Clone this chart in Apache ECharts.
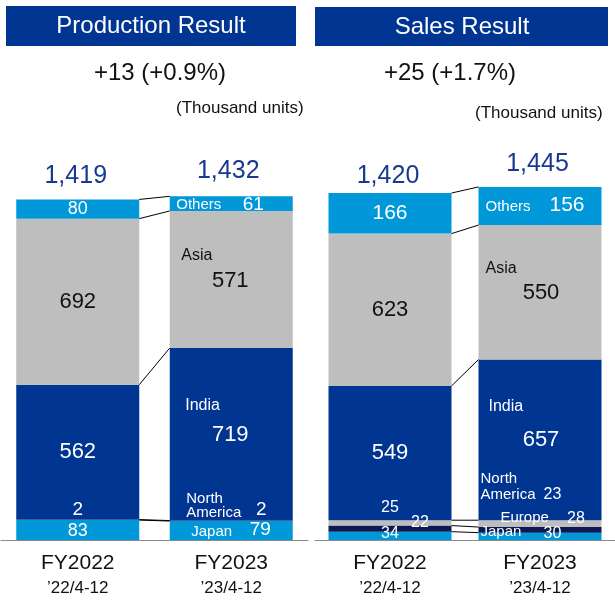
<!DOCTYPE html>
<html>
<head>
<meta charset="utf-8">
<script src="https://cdn.jsdelivr.net/npm/echarts@6/dist/echarts.min.js"></script>
<style>
html,body{margin:0;padding:0;background:#fff;}
#chart{width:615px;height:601px;}
</style>
</head>
<body>
<div id="chart"></div>
<script>
// ---------- DATA ----------
const categories = ['FY2022', 'FY2023'];
const periods = ['’22/4-12', '’23/4-12'];

const prodJapan  = [83, 79];
const prodNA     = [2, 2];
const prodIndia  = [562, 719];
const prodAsia   = [692, 571];
const prodOthers = [80, 61];
const prodTotal  = [1419, 1432];

const salesJapan  = [34, 30];
const salesNA     = [25, 23];
const salesEurope = [22, 28];
const salesIndia  = [549, 657];
const salesAsia   = [623, 550];
const salesOthers = [166, 156];
const salesTotal  = [1420, 1445];

const prodTitle = 'Production Result';
const salesTitle = 'Sales Result';
const prodChange = '+13 (+0.9%)';
const salesChange = '+25 (+1.7%)';
const unitText = '(Thousand units)';

// ---------- STYLE ----------
const FONT = 'Liberation Sans, Arial, sans-serif';
const C_BLUE = '#003591';
const C_LIGHT = '#0098d9';
const C_GRAY = '#bebebe';
const C_NAVY = '#0b1a52';
const C_TOTAL = '#17398f';
const BAR_W = 123;

const chart = echarts.init(document.getElementById('chart'), null, {renderer: 'canvas'});

function valueSeries(name, values, color, grid, stack, labelCfg) {
  return {
    name: name, type: 'bar', stack: stack, barWidth: BAR_W, barGap: '-100%',
    xAxisIndex: grid, yAxisIndex: grid,
    itemStyle: {color: color},
    emphasis: {disabled: true},
    label: {show: true, position: 'inside', color: '#fff', fontFamily: FONT},
    data: values.map((v, i) => ({
      value: v,
      label: Object.assign({formatter: String(v)}, labelCfg[i])
    }))
  };
}

function nameSeries(name, values, grid, stack, labelCfg) {
  return {
    name: name + '-n', type: 'bar', stack: stack, barWidth: BAR_W, barGap: '-100%',
    xAxisIndex: grid, yAxisIndex: grid, silent: true,
    itemStyle: {color: 'rgba(0,0,0,0)'},
    emphasis: {disabled: true},
    label: {show: false, position: 'inside', color: '#fff', fontFamily: FONT, align: 'left'},
    data: values.map((v, i) => ({
      value: v,
      label: labelCfg[i] ? Object.assign({show: true, formatter: name}, labelCfg[i]) : {show: false}
    }))
  };
}

function connectors(seriesArrays, grid) {
  // cumulative boundaries for each category
  const bounds = [];
  let c0 = 0, c1 = 0;
  seriesArrays.forEach(arr => {
    c0 += arr[0]; c1 += arr[1];
    bounds.push([0, c0, c1]);
  });
  return {
    type: 'custom', xAxisIndex: grid, yAxisIndex: grid, silent: true,
    encode: {x: 0, y: 1},
    data: bounds,
    renderItem: function (params, api) {
      const p0 = api.coord([0, api.value(1)]);
      const p1 = api.coord([1, api.value(2)]);
      return {
        type: 'line',
        shape: {x1: p0[0] + BAR_W / 2, y1: p0[1], x2: p1[0] - BAR_W / 2, y2: p1[1]},
        style: {stroke: '#000', lineWidth: 1}
      };
    },
    z: 5
  };
}

function fmtThousands(v) {
  return String(v).replace(/\B(?=(\d{3})+(?!\d))/g, ',');
}

function totalSeries(totals, grid, offsets) {
  return {
    type: 'scatter', xAxisIndex: grid, yAxisIndex: grid, symbolSize: 0, silent: true,
    itemStyle: {opacity: 1, color: C_TOTAL},
    emphasis: {disabled: true},
    data: totals.map((v, i) => ({
      value: [i, v],
      label: {show: true, position: 'inside', offset: offsets[i], formatter: fmtThousands(v),
              color: C_TOTAL, opacity: 1, fontSize: 25, fontFamily: FONT}
    }))
  };
}

const xAxisCommon = {
  type: 'category', data: categories,
  axisTick: {show: false},
  axisLine: {lineStyle: {color: '#8c8c8c', width: 1}},
  axisLabel: {
    margin: 10,
    formatter: (v, i) => '{a|' + v + '}\n{b|' + periods[i] + '}',
    rich: {
      a: {fontSize: 21, lineHeight: 26, color: '#111', fontFamily: FONT},
      b: {fontSize: 17, lineHeight: 24, color: '#111', fontFamily: FONT}
    }
  }
};

const series = [
  // Production values
  valueSeries('Japan', prodJapan, C_LIGHT, 0, 'p', [{fontSize: 18, offset: [0, 1]}, {fontSize: 19, offset: [29, -0.5]}]),
  valueSeries('North America', prodNA, C_NAVY, 0, 'p', [{fontSize: 19, offset: [0, -10]}, {fontSize: 19, offset: [30, -11]}]),
  valueSeries('India', prodIndia, C_BLUE, 0, 'p', [{fontSize: 22, offset: [0, 0]}, {fontSize: 22, offset: [-1, 1]}]),
  valueSeries('Asia', prodAsia, C_GRAY, 0, 'p', [{fontSize: 22, color: '#111', offset: [0, 0]}, {fontSize: 22, color: '#111', offset: [-1, 1.5]}]),
  valueSeries('Others', prodOthers, C_LIGHT, 0, 'p', [{fontSize: 18, offset: [0, 0]}, {fontSize: 19, offset: [22, 1]}]),
  // Production names
  nameSeries('Japan', prodJapan, 0, 'pn', [null, {fontSize: 15, offset: [-40, 1]}]),
  nameSeries('North\nAmerica', prodNA, 0, 'pn', [null, {fontSize: 15, lineHeight: 14, offset: [-45, -14.5]}]),
  nameSeries('India', prodIndia, 0, 'pn', [null, {fontSize: 16, offset: [-46, -29]}]),
  nameSeries('Asia', prodAsia, 0, 'pn', [null, {fontSize: 16, color: '#111', offset: [-50, -24]}]),
  nameSeries('Others', prodOthers, 0, 'pn', [null, {fontSize: 15, offset: [-55, 1]}]),
  connectors([prodJapan, prodNA, prodIndia, prodAsia, prodOthers], 0),
  totalSeries(prodTotal, 0, [[-2, -23], [-3, -25]]),

  // Sales values
  valueSeries('Japan', salesJapan, C_LIGHT, 1, 's', [{fontSize: 16, offset: [0, -2]}, {fontSize: 16, offset: [12.5, -3]}]),
  valueSeries('North America', salesNA, C_NAVY, 1, 's', [{fontSize: 16, offset: [0, -21]}, {fontSize: 16, offset: [12.5, -35]}]),
  valueSeries('Europe', salesEurope, C_GRAY, 1, 's', [{fontSize: 16, offset: [30, 0]}, {fontSize: 16, offset: [36, -5.5]}]),
  valueSeries('India', salesIndia, C_BLUE, 1, 's', [{fontSize: 22, offset: [0, 0]}, {fontSize: 22, offset: [1, 0]}]),
  valueSeries('Asia', salesAsia, C_GRAY, 1, 's', [{fontSize: 22, color: '#111', offset: [0, 0]}, {fontSize: 22, color: '#111', offset: [1, 1]}]),
  valueSeries('Others', salesOthers, C_LIGHT, 1, 's', [{fontSize: 21, offset: [0, 0]}, {fontSize: 21, offset: [27, -1]}]),
  // Sales names
  nameSeries('Japan', salesJapan, 1, 'sn', [null, {fontSize: 15, offset: [-59.5, -4]}]),
  nameSeries('North\nAmerica', salesNA, 1, 'sn', [null, {fontSize: 15, lineHeight: 16, offset: [-59.5, -42.5]}]),
  nameSeries('Europe', salesEurope, 1, 'sn', [null, {fontSize: 15, offset: [-39.5, -5.5]}]),
  nameSeries('India', salesIndia, 1, 'sn', [null, {fontSize: 16, offset: [-51.5, -33]}]),
  nameSeries('Asia', salesAsia, 1, 'sn', [null, {fontSize: 16, color: '#111', offset: [-54.5, -24]}]),
  nameSeries('Others', salesOthers, 1, 'sn', [null, {fontSize: 15, offset: [-54.5, 1]}]),
  connectors([salesJapan, salesNA, salesEurope, salesIndia, salesAsia, salesOthers], 1),
  totalSeries(salesTotal, 1, [[-2, -17], [-2.5, -22.5]])
];

const option = {
  animation: false,
  backgroundColor: '#fff',
  textStyle: {fontFamily: FONT},
  grid: [
    {left: 1, width: 307, top: 150, bottom: 61, containLabel: false},
    {left: 315, width: 306, top: 150, bottom: 61, containLabel: false}
  ],
  xAxis: [
    Object.assign({gridIndex: 0}, xAxisCommon),
    Object.assign({gridIndex: 1}, xAxisCommon)
  ],
  yAxis: [
    {gridIndex: 0, type: 'value', min: 0, max: 1625, show: false, splitLine: {show: false}},
    {gridIndex: 1, type: 'value', min: 0, max: 1595, show: false, splitLine: {show: false}}
  ],
  graphic: [
    {type: 'rect', left: 6, top: 6, shape: {width: 290, height: 40}, style: {fill: C_BLUE}},
    {type: 'text', x: 151, y: 26, style: {text: prodTitle, fill: '#fff', font: '24px ' + FONT, align: 'center', verticalAlign: 'middle'}},
    {type: 'rect', left: 315, top: 7, shape: {width: 293, height: 39}, style: {fill: C_BLUE}},
    {type: 'text', x: 462, y: 27, style: {text: salesTitle, fill: '#fff', font: '24px ' + FONT, align: 'center', verticalAlign: 'middle'}},
    {type: 'text', x: 160, y: 73, style: {text: prodChange, fill: '#111', font: '24px ' + FONT, align: 'center', verticalAlign: 'middle'}},
    {type: 'text', x: 450, y: 73, style: {text: salesChange, fill: '#111', font: '24px ' + FONT, align: 'center', verticalAlign: 'middle'}},
    {type: 'text', x: 176, y: 108, style: {text: unitText, fill: '#111', font: '17px ' + FONT, align: 'left', verticalAlign: 'middle'}},
    {type: 'text', x: 475, y: 113, style: {text: unitText, fill: '#111', font: '17px ' + FONT, align: 'left', verticalAlign: 'middle'}}
  ],
  series: series
};

chart.setOption(option);
</script>
</body>
</html>
